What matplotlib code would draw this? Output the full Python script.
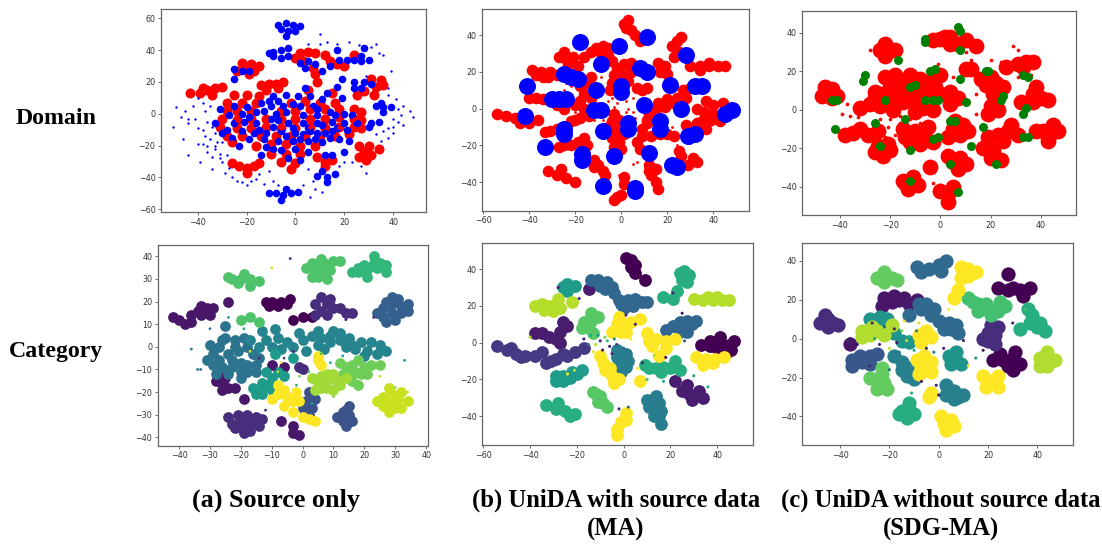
import matplotlib
matplotlib.use("Agg")
import matplotlib.pyplot as plt

W, H = 1102, 545

# ---- (a) source only, domain
a_red = [(-43,13),(-39,13),(-36,15),(-33,16),(-30,17),(-34,12),(-38,16),
         (-24,27),(-21,29),(-18,31),(-22,32),(-17,27),(-15,30),(-19,25),
         (-14,18),(-11,19),(-8,19),(-5,20),(-12,15),(-7,16),
         (0,35),(2,38),(5,39),(8,38),(12,37),(3,33),(7,29),(14,33),(17,31),(20,30),(24,37),
         (25,12),(28,14),(33,17),(36,18),(31,22),(35,21),(32,12),
         (-25,12),(-20,12),(-15,11),(5,15),(9,20),(8,25),(15,13),
         (-28,7),(-22,7),(-16,7),(-2,7),(4,8),(10,7),(16,7),
         (-28,2),(-24,2),(-18,2),(-6,2),(0,2),(6,3),(12,3),(18,3),(24,3),(27,1),
         (-30,-3),(-24,-4),(-18,-3),(-12,-3),(-6,-3),(0,-3),(6,-3),(12,-3),(18,-2),(24,-3),(27,-4),
         (-31,-8),(-24,-9),(-18,-9),(-12,-8),(-6,-9),(0,-9),(6,-8),(12,-9),(18,-8),(24,-8),(27,-9),
         (-28,-14),(-22,-14),(-14,-14),(-8,-14),(-2,-14),(4,-14),(10,-14),(16,-14),(22,-13),
         (-26,-18),(-16,-20),(-10,-19),(-4,-19),(2,-20),(8,-20),
         (-10,-25),(-4,-25),(2,-25),(-6,-30),(0,-31),(-2,-35),
         (26,-20),(30,-20),(34,-22),(28,-24),(31,-26),(26,-27),(29,-29),
         (12,-30),(9,-27),(15,-29),(12,-33),
         (-26,-31),(-23,-33),(-20,-34),(-17,-33),(-15,-31),(-20,-37)]
a_blue = [(-7,56),(-4,57),(-1,56),(2,55),(-6,53),(-3,52),(0,52),(-4,49),
          (-11,38),(-9,39),(-6,40),(-3,41),(-9,36),(-6,35),(-3,36),
          (2,32),(5,33),(8,31),(4,29),(14,30),(11,27),(18,34),(21,34),(24,34),(27,33),(30,34),(27,36),(17,40),(28,41),
          (-25,28),(-22,27),(-19,27),(-25,22),
          (24,20),(28,20),(31,19),(24,16),(27,16),(19,22),(17,17),
          (33,5),(36,4),(39,4),(35,7),(36,1),(31,-6),(34,-5),(30,-8),
          (-14,7),(-11,8),(-7,8),(-10,5),(-4,12),(1,11),(6,11),(11,9),
          (-27,-1),(-22,0),(-19,-2),(-31,3),(-16,-6),(-10,-3),(-4,1),(3,-1),(9,-1),(15,-5),(20,-6),
          (-28,-10),(-22,-11),(-15,-10),(-9,-8),(-3,-6),(3,-6),(9,-6),(15,-11),(21,-10),
          (-26,-15),(-19,-16),(-12,-12),(-6,-11),(0,-12),(6,-11),(12,-12),(18,-16),
          (-12,-21),(-7,-17),(-1,-17),(5,-17),(11,-18),(-6,-23),(0,-22),(5,-24),
          (12,-26),(15,-26),(20,-24),(-3,-28),(2,-29),
          (-11,-50),(-8,-50),(-5,-51),(-2,-50),(1,-49),(-6,-54),(-4,-47),
          (9,-39),(13,-40),(16,-38),(11,-36),(13,-43),
          (-33,-6),(-30,-12),(-25,5),(-20,4),(-13,2),(-8,0),(-1,6),(7,5),(14,1),(20,0),(25,-6),
          (-23,-20),(-14,-26),(-9,-22),(3,-13),(9,-12),(22,-17),
          (-7,-4),(-1,-9),(5,-9),(11,-7),(17,-9),(-13,-16),(-4,-14),(2,-16),(8,-16),(14,-15),
          (-17,-12),(-25,-6),(-21,-5),(-16,1),(-5,5),(2,5),(9,3),(16,-1),(23,-1),(-9,11),(4,16),(13,13),(19,10)]
a_blue_sparse = [(-50,-8),(-49,4),(-47,-2),(-45,2),(-44,-6),(-46,-16),(-42,5),(-41,-3),(-40,-9),(-38,-10),
                 (-44,-26),(-40,-19),(-38,-19),(-39,-30),(-36,-24),(-34,-27),(-33,-22),(-31,-25),(-34,-35),
                 (-30,-30),(-27,-34),(-15,-38),(-18,-42),(-26,-40),(-13,-44),(-22,-43),(-37,-14),(-35,-16),
                 (40,-8),(42,-5),(44,-7),(47,2),(48,-2),(38,-15),(40,-3),(38,16),(10,50),(-40,10),(-37,2),
                 (-36,-5),(-33,-12),(-35,5),(-38,7),(-44,-3),(-32,-18),(38,-9),(33,-13),(35,-17),(29,-37),
                 (11,-49),(8,-47),(10,44),(5,44),(22,45),(33,44),(36,37),(39,27),(41,9),(43,-1),(27,-33),
                 (-33,-20),(-31,-28),(-28,-26),(-36,-20),(-34,-8),(-30,-18),(-29,-37),(-24,-42),(-20,-45),
                 (-16,-41),(-11,-36),(-9,-42),(-7,-45),(3,-45),(6,-52),(5,-35),(7,-42),(18,-33),(20,-30),
                 (23,-30),(13,45),(17,44),(26,43),(31,42),(34,38),(29,24),(38,12),(42,3),(44,5),(40,-12),(36,-11)]

# ---- (b) UniDA with source data, domain
b_red = [(1,46),(3,48),(2,44),(4,43),(6,40),(8,37),
         (-13,31),(-11,33),(-8,34),(-6,33),(-9,30),(-6,29),(-4,26),(-16,28),
         (-27,28),(-25,31),(-24,27),(-21,28),(-23,24),(-19,23),
         (-39,21),(-35,20),(-31,20),(-37,18),(-34,17),(-32,17),(-28,18),
         (-40,6),(-37,6),(-34,5),(-31,4),(-28,2),(-25,0),
         (-13,17),(-15,14),(-18,12),(-16,8),(-13,6),(-18,4),(-20,2),(-16,0),
         (26,39),(24,37),(22,34),(25,31),(23,28),
         (30,23),(34,23),(38,23),(42,23),(45,23),(34,21),(38,25),
         (16,25),(19,23),(17,20),(20,19),
         (1,24),(4,25),(-2,22),(-3,18),(0,19),(4,20),(3,15),(-4,14),(-5,10),
         (7,11),(9,10),(11,11),
         (30,11),(27,10),(28,6),(24,6),(20,5),(16,3),(15,0),(19,1),(23,3),(12,-3),
         (33,0),(37,4),(36,-2),(40,2),(44,3),(40,-3),(35,-7),(39,-6),(43,-7),(33,-8),(37,-11),(28,-9),
         (-50,-4),(-54,-3),(-46,-5),(-40,-8),(-36,-6),(-44,-8),
         (-33,-13),(-31,-12),(-28,-11),(-22,-7),(-20,-6),(-18,-5),(-14,-4),
         (-3,-3),(-1,-6),(-4,-7),(-6,-10),(-2,-12),(1,-14),(-5,-14),(-4,-16),(-1,-18),(-3,-21),(0,-22),
         (11,-6),(11,-8),(9,-11),(9,-15),(13,-15),(17,-14),(20,-14),(23,-15),(7,-18),(8,-22),
         (-27,-21),(-25,-20),(-22,-20),(-19,-18),(-16,-16),(-15,-20),
         (-12,-28),(-12,-32),(-10,-31),(-8,-34),(-7,-36),
         (12,-31),(15,-33),(12,-34),(13,-36),(15,-40),(16,-44),
         (25,-23),(26,-26),(31,-27),(33,-29),(29,-31),
         (-32,-34),(-28,-36),(-26,-33),(-24,-38),(-20,-40),
         (-2,-48),(-3,-50),(0,-47),(1,-41),(1,-37)]
b_red_sparse = [(-14,2),(-10,3),(-6,4),(-2,3),(2,-2),(-8,-6),(-12,-6),(-3,1),(5,-2),(-16,3),(-12,0),(-8,1),
                (2,4),(6,-5),(8,-1),(-10,-4),(-6,-3),(3,0),(-4,6),(-20,-2),(-18,7),(5,6),(-22,12),(-24,14),
                (-25,10),(-9,17),(22,-10),(7,-29),(5,-30),(-1,-36),(24,-20),(30,-19),(-6,-38)]
b_blue = [(-18,36),(-1,34),(11,39),(28,29),(-9,24),(8,22),(11,20),(-25,19),(-22,17),(-19,16),
          (-41,12),(0,12),(0,9),(21,13),(35,12),(32,12),(-11,10),(-30,5),(-27,5),(-24,5),
          (10,2),(26,0),(-12,-1),(-9,-1),(45,-3),(48,-1),(-42,-4),(-25,-11),(-25,-14),(17,-7),
          (17,-11),(3,-8),(3,-11),(-8,-12),(29,-15),(32,-14),(-33,-21),(-17,-25),(-17,-28),
          (-3,-26),(12,-24),(24,-32),(22,-31),(-8,-42),(6,-43),(6,-45)]

# ---- (c) UniDA without source data, domain
c_red = [(-3,36),(0,37),(2,38),(4,38),(7,34),(4,34),(10,36),(14,33),
         (-24,31),(-22,34),(-20,31),(-22,28),(-18,31),
         (-47,7),(-46,12),(-45,9),(-43,11),(-43,6),(-41,7),
         (-22,17),(-18,18),(-15,15),(-12,18),(-8,16),(-4,15),(-2,12),(0,18),
         (-20,12),(-16,11),(-12,8),(-8,10),(-4,10),(0,8),(4,9),(7,6),(4,3),
         (-26,9),(-24,8),(-26,6),(-20,6),(-28,3),(-32,1),(-24,2),(-19,0),(-15,4),(-11,5),(-7,1),(-3,0),(-10,-1),
         (-38,-13),(-35,-12),(-32,-10),(-29,-13),(-25,-11),
         (-26,-22),(-23,-24),(-20,-21),(-25,-19),(-21,-18),
         (-15,-10),(-14,-14),(-10,-11),(-7,-13),(-12,-17),(-8,-18),(-3,-17),(-5,-9),
         (3,-14),(5,-10),(8,-13),(9,-8),(6,-6),(11,-11),
         (3,-24),(5,-27),(8,-25),(10,-28),(7,-31),
         (-4,-30),
         (-15,-37),(-14,-38),(-11,-35),(-9,-39),(-13,-41),
         (0,-42),(3,-44),(3,-48),(5,-40),
         (38,-11),(41,-11),(44,-12),(47,-11),(43,-16),(45,-8),
         (19,-14),(23,-13),(27,-11),(31,-13),(17,-20),(21,-21),(25,-16),(28,-8),(24,-26),(20,-25),
         (20,2),(23,0),(19,-2),(22,4),(21,8),
         (18,13),(22,14),(25,12),(20,17),(16,16),(12,21),
         (10,21),(26,22),(31,24),(34,25),(37,25),(33,22),
         (38,12),(40,6),(37,4),(43,5),(37,8),(32,4)]
c_red_sparse = [(-12,1),(-16,-3),(-20,-5),(-12,-5),(-8,-7),(-16,-7),(-24,-5),(-33,-4),(-36,-3),(-39,-2),
                (-21,-9),(-22,-14),(-18,-13),(29,33),(31,31),(-28,31),(20,26),(24,25),(12,26),(10,30),
                (-1,24),(5,17),(-3,-38),(-5,-27),(-3,-31),(0,-39),(14,8),(14,-2),(31,17),(36,18),(-37,3)]
c_green = [(7,43),(8,41),(-6,37),(-6,35),(8,31),(-17,26),(-30,18),(-31,15),(-2,21),(-4,20),
           (8,16),(19,20),(18,20),(33,18),(35,17),(-12,12),(-10,13),(-43,5),(-41,5),(-22,5),
           (-6,5),(-3,5),(-1,5),(10,4),(24,5),(25,7),(34,1),(33,-2),(-14,-5),(-26,-7),
           (6,-6),(4,-6),(17,-9),(-42,-10),(-3,-15),(-1,-14),(33,-14),(35,-14),(12,-19),(-24,-19),
           (-12,-21),(22,-28),(4,-28),(-12,-37),(7,-43)]

# ---- (a) source only, category groups, darkest to lightest
a_t00 = [(-12,20),(-10,20),(-7,20),(-4,21),(-5,19),(-11,18),(-8,18),(0,13),(-3,12),(3,13)]
a_t05 = [(-42,13),(-38,10),(-36,11),(-34,16),(-33,14),(-31,17),(-30,14),(-24,20),(-26,-16),(-28,-15),
         (-24,-18),(-26,-19),(-22,-18),(-19,-23),(-7,-33),(-3,-35),(-3,-38),(-1,-39),(-10,-8),(-6,-9),
         (-36,14),(-40,12),(-33,18),(-29,17),(-25,-14),(-27,-13)]
a_t13 = [(-24,-31),(-23,-34),(-20,-33),(-18,-30),(-17,-34),(-15,-31),(-20,-36),(-19,-38),(-14,-35),
         (8,19),(6,22),(10,17),(6,16),(8,14),(12,17),(14,15),(16,15),(0,-10),(-1,-9),
         (-22,-36),(-17,-37),(-21,-30),(-13,-32),(4,19),(9,21),(4,14)]
a_t25 = [(13,-29),(15,-30),(13,-33),(15,-26),(11,-31),(16,-33),(1,-24),(2,-20),(3,-27),
         (14,-35),(14,-28),(0,-27),(4,-23),(2,-30)]
a_t30 = [(29,22),(26,17),(29,19),(32,18),(34,19),(29,15),(32,15),(26,13),(30,12),
         (27,11),(34,16),(24,15),(31,21),(27,20)]
a_t38 = [(-25,9),(-22,3),(-25,4),(-19,4),(-22,0),(-27,0),(-29,-3),(-31,-6),(-27,-6),(-24,-3),
         (-23,-9),(-20,-7),(-18,-8),(-15,-8),(-18,-11),(-15,-11),(-28,-12),(-20,-14),(-26,3),
         (-30,1),(-26,-9),(-23,-6),(-21,-2),(-18,0),(-16,-3),(-29,-8),(-24,-12),(-14,-5),(-20,-11)]
a_t45 = [(3,5),(6,4),(9,5),(12,6),(5,1),(9,2),(12,3),(17,-1),(19,2),(22,2),(25,1),(21,-2),(24,-3),(27,-2),
         (-12,3),(-17,3),(-8,4),(-5,2),(-10,0),(-7,-1),(-3,0),
         (0,3),(15,4),(16,1),(20,-4),(14,0),(7,-1),(1,-2),(-14,0),(-1,6),(-9,8),(-13,7),(5,7),(10,7)]
a_t55 = [(-13,-21),(-13,-16),(-13,-19),(-11,-17),(-10,-14),(-6,-13),(-9,-3),(-3,-5),
         (-16,-18),(-15,-21),(-10,-19),(-8,-11),(-12,-11)]
a_t68 = [(21,34),(18,33),(24,35),(25,37),(23,40),(16,33),(27,33),(21,31),(20,36),(18,35),(27,36),(23,37)]
a_t72 = [(-24,31),(-20,30),(-23,30),(-19,32),(-17,30),(-14,29),(-21,28),(-17,27),(-17,13),(-20,12),(-14,11),
         (3,37),(5,35),(7,37),(10,38),(4,33),(9,34),(12,38),(5,31),(8,30),(1,35),(6,33),(6,39),(3,31)]
a_t78 = [(14,-9),(16,-8),(18,-6),(20,-9),(17,-11),(15,-13),(22,-8),(25,-8),(18,-17),
         (13,-12),(19,-12),(16,-15),(21,-12),(12,-7)]
a_t86 = [(3,-14),(5,-16),(8,-15),(11,-15),(8,-18),(12,-17),(8,-12),(4,-19),(6,-13),(10,-12),(6,-18),(14,-14),(10,-19)]
a_t92 = [(26,-22),(29,-21),(32,-20),(28,-24),(31,-23),(26,-26),(30,-27),(28,-29),(34,-24),(24,-24),(29,-25),(32,-27),(28,-18)]
a_t100 = [(5,-6),(6,-8),(-8,-21),(-5,-22),(-2,-20),(-8,-17),(-3,-24),(-3,-29),(0,-31),(2,-32),
          (-10,-23),(-6,-19),(-1,-24),(-6,-26),(5,-4),(4,-33)]

# ---- (b) UniDA with source data, category groups
b_t00 = [(3,45),(1,46),(3,41),(5,38),(9,34),(33,-1),(37,1),(41,-1),(41,3),(45,-1),(47,1),(44,-5),(40,-3),(5,42),(46,-4),(37,-2)]
b_t08 = [(-38,5),(-35,5),(-32,3),(-29,2),(-27,6),(-26,11),(-24,9),(-15,29),(25,-26),(28,-28),(31,-29),(34,-30),(32,-26),(27,-23),(-27,0),(29,-31),(22,-21)]
b_t18 = [(-54,-2),(-50,-4),(-46,-6),(-42,-7),(-38,-7),(-35,-5),(-33,-11),(-29,-9),(-26,-6),(-21,-5),(-17,-3),(-31,-10),(-24,-7),(-44,-8),(-48,-3)]
b_t32 = [(-14,34),(-11,34),(-7,33),(-8,29),(-4,27),(-2,23),(2,23),(5,24),(8,22),(0,19),(4,20),
         (24,11),(27,12),(29,10),(21,9),(27,6),(24,6),(-10,31),(-5,30),(10,22),(-1,21),(18,7),(31,12)]
b_t42 = [(-3,-4),(-1,-7),(1,-6),(-2,-11),(1,-13),(-1,-16),(0,-8),(2,-10),(-3,-8),
         (10,-31),(12,-31),(15,-33),(13,-36),(15,-40),(16,-44),(11,-35),(14,-29),(16,-37),(13,-40)]
b_t55 = [(-29,-21),(-26,-21),(-23,-19),(-20,-17),(-18,-15),(-26,30),(-24,32),(-21,31),(-24,28),(-29,-18),(-22,-16),(-26,-18)]
b_t64 = [(-33,-34),(-29,-36),(-25,-37),(-21,-39),(-28,-33),(24,38),(25,34),(26,39),(28,37),(23,28),(21,24),(17,25),
         (14,-14),(11,-14),(17,-13),(20,-14),(24,-15),(22,-10),(9,-12),(25,36),(27,33),(16,-16),(-23,-40)]
b_t74 = [(-14,16),(-14,12),(-18,8),(-13,5),(-15,8),(-12,-28),(-10,-29),(-9,-33),(-7,-35),(-13,-27),(-17,11),(-11,14),(-11,-32)]
b_t90 = [(30,24),(34,23),(38,23),(42,23),(45,23),(-38,20),(-34,18),(-30,17),(-27,19),(-35,21),(-22,22),(36,25),(40,25),(-32,20),(-28,24)]
b_t100 = [(-2,14),(-3,10),(-5,6),(1,6),(3,11),(-1,6),(7,13),(10,5),(14,2),(18,1),(22,2),(12,-2),(18,-3),(15,-7),
          (-10,-7),(-9,-11),(-6,-14),(-5,-18),(-2,-20),(-4,-22),(7,-21),
          (31,-8),(35,-9),(39,-9),(43,-8),(34,-12),(38,-11),
          (1,-38),(-1,-43),(-3,-47),(-3,-50),(0,10),(11,1),(-8,-15),(1,-42)]

# ---- (c) UniDA without source data, category groups
c_t00 = [(22,-11),(26,-11),(30,-10),(33,-13),(30,-16),(25,-8),(30,26),(33,25),(37,26),(34,22),(28,25),(28,33),(28,-14),(31,-7),(24,26)]
c_t05 = [(-22,21),(-19,19),(-16,20),(-12,18),(-23,17),(-36,-3),(-18,22),(-14,21),(-9,20)]
c_t12 = [(-45,10),(-48,8),(-45,6),(-43,8),(-41,7),(-46,12),(20,3),(23,2),(20,-1),(23,-3),(21,7),(18,0),(24,6)]
c_t30 = [(-35,-11),(-31,-12),(-28,-9),(-35,-14),(-25,-8),(-32,-9),(-28,-13)]
c_t36 = [(0,38),(3,40),(-4,36),(-7,34),(-9,37),(-5,18),(-2,15),(-7,15),(0,9),(4,8),(2,5),(7,7),(-12,12),(-3,12),(-8,18),(1,35),(5,5),(8,3)]
c_t44 = [(3,-24),(6,-27),(8,-30),(10,-29),(6,-31),(-15,-16),(-13,-19),(-15,-12),(-10,-21),(-18,-9),(3,-29),(-12,-15)]
c_t52 = [(4,-9),(7,-11),(7,-7),(5,-13),(9,-13),(-24,11),(-21,10),(-28,10),(-15,-1),(-12,-2),(-24,8),(-18,3)]
c_t62 = [(-15,-37),(-12,-36),(-10,-39),(-13,-41),(-16,-39),(37,8),(40,6),(38,12),(43,4),(36,15),(33,5),(-12,-33),(41,8)]
c_t70 = [(12,21),(16,18),(20,15),(24,14),(27,17),(16,14),(21,12),(25,19),(19,18),(14,19)]
c_t76 = [(-25,-21),(-22,-23),(-25,-26),(-23,-18),(-21,-26),(-28,-20),(-22,34),(-22,29),(-19,31),(-25,31),(-17,30),(-23,-15)]
c_t88 = [(-31,4),(-28,2),(-27,6),(-31,1),(41,-10),(44,-9),(47,-11),(44,-14),(41,-14),(44,-7),(-22,2),(-25,4),(-19,7)]
c_t100 = [(9,37),(12,36),(15,34),(9,31),(12,32),(8,25),(6,21),(-8,2),(-5,4),(-3,1),(-7,-2),
          (-9,-11),(-6,-9),(-3,-12),(-7,-15),(-8,-18),(-3,-17),(18,-19),(21,-22),(24,-19),(19,-25),(24,-25),
          (-4,-30),(-3,-28),(1,-40),(2,-44),(5,-42),(3,-47),(6,-45)]

# scattered dots that sit outside the main groups of the category panels
dots_x = [-36,-34,-33,-10,-4,4,9,14,23,27,33,34,-16,-7,6,13,20,-12,-9,-1,3,-30,-17,-3,
          -6,2,-24,-19,-14,-8,-2,10,25,30]
dots_y = [-1,-10,-10,35,39,-4,-7,12,13,-1,-6,-20,-3,-7,-3,-4,-13,-28,-10,-13,-25,8,-2,-2,
          -5,-11,13,8,-5,-11,-17,-22,-13,-18]
dots_v = [.38,.38,.38,.95,.1,.95,.6,.05,.1,.45,.5,.9,.5,1,.7,.55,.75,.1,.1,.8,.6,.4,.95,.1,
          .2,.7,.55,.6,.1,.9,.6,.8,.9,.85]

b_dots_x = [-17,-14,-12,-10,-8,-6,-4,-13,-9,-7,-3,-15,-11,0,3,6,-5,8,13,18,25,-40,-24,-21,-28,1,5,
            21,17,30,36,-2,26,-19,2,10]
b_dots_y = [2,4,-1,1,3,-2,2,-5,-4,1,-1,-1,4,-3,2,-14,-6,-11,-7,-8,16,3,-17,-15,30,15,10,27,-21,-18,-24,-36,1,24,-35,-20]
b_dots_v = [.1,.6,.9,.1,.8,.1,.5,.95,.05,.7,.2,.4,.55,.35,1,1,.1,.1,.9,.05,.05,.9,1,.9,.1,.1,.1,
            .1,.6,.6,.6,.1,.3,.1,.35,.7]

c_dots_x = [-36,-33,-30,-27,-24,-20,-16,-12,-8,-5,-18,-14,-10,-26,-22,-17,-13,-9,-2,2,-4,-20,-15,-7,
            12,15,18,-1,0,-11,4,10,-28,-37,30,35]
c_dots_y = [0,-3,4,8,-3,-5,-7,1,8,-5,5,9,-6,0,6,-2,-1,4,-7,-5,-13,-16,4,-22,-14,-10,-6,-24,-29,-28,15,-1,-14,-1,8,15]
c_dots_v = [.05,.05,.9,.1,.1,.9,.4,.6,.95,.1,.1,1,.6,.6,.3,.05,.9,.45,.4,.1,1,.4,.8,.1,1,.5,.05,.1,.05,.6,1,.1,.1,.1,.1,.7]

a_groups = [(a_t00,0.0),(a_t05,0.06),(a_t13,0.13),(a_t25,0.25),(a_t30,0.30),(a_t38,0.38),(a_t45,0.45),
            (a_t55,0.55),(a_t68,0.66),(a_t72,0.72),(a_t78,0.78),(a_t86,0.86),(a_t92,0.92),(a_t100,1.0)]
b_groups = [(b_t00,0.0),(b_t08,0.08),(b_t18,0.17),(b_t32,0.33),(b_t42,0.42),(b_t55,0.55),(b_t64,0.63),
            (b_t74,0.74),(b_t90,0.89),(b_t100,1.0)]
c_groups = [(c_t00,0.0),(c_t05,0.06),(c_t12,0.13),(c_t30,0.27),(c_t36,0.34),(c_t44,0.43),(c_t52,0.52),
            (c_t62,0.62),(c_t70,0.70),(c_t76,0.76),(c_t88,0.88),(c_t100,1.0)]

row_labels = ["Domain", "Category"]
col_titles = ["(a) Source only", "(b) UniDA with source data\n(MA)", "(c) UniDA without source data\n(SDG-MA)"]


def new_axes(fig, left, top, right, bottom, xlim, ylim, xticks, yticks):
    ax = fig.add_axes([left / W, 1 - bottom / H, (right - left) / W, (bottom - top) / H])
    ax.set_xlim(xlim)
    ax.set_ylim(ylim)
    ax.set_xticks(xticks)
    ax.set_yticks(yticks)
    ax.tick_params(labelsize=5.8, length=2.2, width=0.5, pad=1.8, colors="#333333")
    for s in ax.spines.values():
        s.set_color("#666666")
        s.set_linewidth(0.9)
    return ax


def dots(ax, pts, color, size, **kw):
    xs, ys = zip(*pts)
    ax.scatter(xs, ys, s=size, c=color, linewidths=0, **kw)


def groups(ax, grp, size):
    cmap = plt.get_cmap("viridis")
    for pts, tone in grp:
        dots(ax, pts, [cmap(tone)], size)


fig = plt.figure(figsize=(W / 100, H / 100), dpi=100)

t20 = list(range(-40, 41, 20))
t20b = list(range(-60, 61, 20))

ax = new_axes(fig, 161, 9, 426, 212, (-55, 53.4), (-61.7, 65.8), t20, t20b)
dots(ax, a_red, "red", 52)
dots(ax, a_blue, "blue", 30)
dots(ax, a_red[45:100:2], "red", 10)
dots(ax, a_blue_sparse, "blue", 3)

ax = new_axes(fig, 482.3, 9.3, 749.3, 210.7, (-60.4, 55.6), (-55.6, 54), [-60,-40,-20,0,20,40], t20)
dots(ax, b_red, "red", 70)
dots(ax, b_red_sparse, "red", 4)
dots(ax, b_blue, "blue", 150)

ax = new_axes(fig, 802.3, 11, 1076, 215, (-55, 54), (-54.7, 51.3), t20, t20)
dots(ax, c_red, "red", 130)
dots(ax, c_red_sparse, "red", 7)
dots(ax, c_green, "green", 42)

ax = new_axes(fig, 157.7, 245, 427.7, 445.7, (-46.9, 40.5), (-43.7, 45), list(range(-40, 41, 10)), list(range(-40, 41, 10)))
groups(ax, a_groups, 60)
ax.scatter(dots_x, dots_y, s=4, c=dots_v, cmap="viridis", vmin=0, vmax=1, linewidths=0)

ax = new_axes(fig, 482.3, 243.3, 753.3, 445, (-60.4, 55.4), (-55.6, 54), [-60,-40,-20,0,20,40], t20)
groups(ax, b_groups, 85)
ax.scatter(b_dots_x, b_dots_y, s=5, c=b_dots_v, cmap="viridis", vmin=0, vmax=1, linewidths=0)

ax = new_axes(fig, 802.3, 243.3, 1072.7, 445, (-55.3, 54.3), (-54.7, 49), t20, t20)
groups(ax, c_groups, 105)
ax.scatter(c_dots_x, c_dots_y, s=5, c=c_dots_v, cmap="viridis", vmin=0, vmax=1, linewidths=0)

font = dict(family="Liberation Serif", fontweight="bold", color="black")
fig.text(56 / W, 1 - 118 / H, row_labels[0], ha="center", va="center", fontsize=17.2, **font)
fig.text(56 / W, 1 - 352 / H, row_labels[1], ha="center", va="center", fontsize=17.2, **font)
fig.text(276 / W, 1 - 500 / H, col_titles[0], ha="center", va="center", fontsize=18.8, **font)
fig.text(616 / W, 1 - 515 / H, col_titles[1], ha="center", va="center", fontsize=17.7, linespacing=1.3, **font)
fig.text(941 / W, 1 - 515 / H, col_titles[2], ha="center", va="center", fontsize=17.7, linespacing=1.3, **font)

fig.savefig("out.png", dpi=100)
